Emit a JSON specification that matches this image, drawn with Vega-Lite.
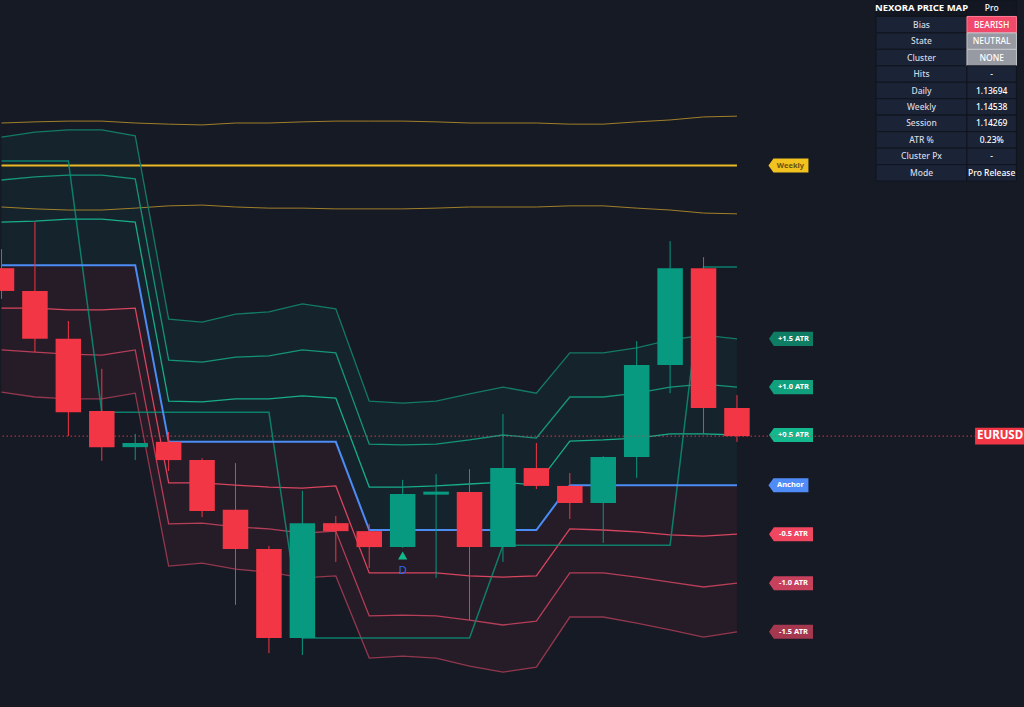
{
"$schema": "https://vega.github.io/schema/vega-lite/v6.json",
"width": 1024, "height": 707, "autosize": {"type": "none"}, "padding": 0,
"background": "#161a25",
"config": {"view": {"stroke": null}},
"datasets": {
"candles": [
{"i":0,"o":1.14268,"h":1.14318,"l":1.14187,"c":1.14208,"a":1.14276,"t":1.14550,"u05":1.14389,"u10":1.14500,"u15":1.14613,"d05":1.14163,"d10":1.14053,"d15":1.13942,"whi":1.14650,"wlo":1.14429,"wk":1.14538},
{"i":1,"o":1.14208,"h":1.14389,"l":1.14047,"c":1.14082,"a":1.14276,"t":1.14550,"u05":1.14392,"u10":1.14508,"u15":1.14626,"d05":1.14163,"d10":1.14047,"d15":1.13929,"whi":1.14653,"wlo":1.14424,"wk":1.14538},
{"i":2,"o":1.14082,"h":1.14129,"l":1.13826,"c":1.13889,"a":1.14276,"t":1.14550,"u05":1.14397,"u10":1.14513,"u15":1.14632,"d05":1.14158,"d10":1.14042,"d15":1.13924,"whi":1.14655,"wlo":1.14421,"wk":1.14538},
{"i":3,"o":1.13892,"h":1.14003,"l":1.13761,"c":1.13797,"a":1.14276,"t":1.13889,"u05":1.14397,"u10":1.14513,"u15":1.14632,"d05":1.14158,"d10":1.14039,"d15":1.13924,"whi":1.14655,"wlo":1.14421,"wk":1.14538},
{"i":4,"o":1.13797,"h":1.13832,"l":1.13763,"c":1.13808,"a":1.14276,"t":1.13889,"u05":1.14389,"u10":1.14503,"u15":1.14616,"d05":1.14163,"d10":1.14053,"d15":1.13939,"whi":1.14650,"wlo":1.14426,"wk":1.14538},
{"i":5,"o":1.13811,"h":1.13837,"l":1.13734,"c":1.13763,"a":1.13811,"t":1.13889,"u05":1.13918,"u10":1.14026,"u15":1.14134,"d05":1.13703,"d10":1.13595,"d15":1.13484,"whi":1.14647,"wlo":1.14432,"wk":1.14538},
{"i":6,"o":1.13763,"h":1.13768,"l":1.13613,"c":1.13629,"a":1.13811,"t":1.13889,"u05":1.13916,"u10":1.14021,"u15":1.14126,"d05":1.13703,"d10":1.13597,"d15":1.13492,"whi":1.14645,"wlo":1.14434,"wk":1.14538},
{"i":7,"o":1.13632,"h":1.13755,"l":1.13382,"c":1.13529,"a":1.13811,"t":1.13889,"u05":1.13924,"u10":1.14034,"u15":1.14147,"d05":1.13697,"d10":1.13587,"d15":1.13476,"whi":1.14650,"wlo":1.14429,"wk":1.14538},
{"i":8,"o":1.13529,"h":1.13537,"l":1.13255,"c":1.13295,"a":1.13811,"t":1.13889,"u05":1.13924,"u10":1.14037,"u15":1.14153,"d05":1.13692,"d10":1.13582,"d15":1.13468,"whi":1.14650,"wlo":1.14426,"wk":1.14538},
{"i":9,"o":1.13295,"h":1.13682,"l":1.13250,"c":1.13597,"a":1.13811,"t":1.13295,"u05":1.13932,"u10":1.14053,"u15":1.14174,"d05":1.13689,"d10":1.13571,"d15":1.13453,"whi":1.14653,"wlo":1.14426,"wk":1.14538},
{"i":10,"o":1.13597,"h":1.13616,"l":1.13495,"c":1.13576,"a":1.13811,"t":1.13295,"u05":1.13926,"u10":1.14045,"u15":1.14161,"d05":1.13695,"d10":1.13576,"d15":1.13458,"whi":1.14655,"wlo":1.14424,"wk":1.14538},
{"i":11,"o":1.13576,"h":1.13595,"l":1.13479,"c":1.13534,"a":1.13579,"t":1.13295,"u05":1.13692,"u10":1.13805,"u15":1.13918,"d05":1.13466,"d10":1.13353,"d15":1.13242,"whi":1.14655,"wlo":1.14424,"wk":1.14538},
{"i":12,"o":1.13534,"h":1.13711,"l":1.13532,"c":1.13674,"a":1.13579,"t":1.13295,"u05":1.13692,"u10":1.13803,"u15":1.13913,"d05":1.13466,"d10":1.13355,"d15":1.13247,"whi":1.14655,"wlo":1.14424,"wk":1.14538},
{"i":13,"o":1.13672,"h":1.13726,"l":1.13453,"c":1.13680,"a":1.13579,"t":1.13295,"u05":1.13695,"u10":1.13805,"u15":1.13918,"d05":1.13466,"d10":1.13353,"d15":1.13242,"whi":1.14653,"wlo":1.14426,"wk":1.14538},
{"i":14,"o":1.13679,"h":1.13739,"l":1.13342,"c":1.13534,"a":1.13579,"t":1.13295,"u05":1.13700,"u10":1.13816,"u15":1.13937,"d05":1.13458,"d10":1.13342,"d15":1.13221,"whi":1.14650,"wlo":1.14429,"wk":1.14538},
{"i":15,"o":1.13534,"h":1.13884,"l":1.13495,"c":1.13742,"a":1.13579,"t":1.13539,"u05":1.13705,"u10":1.13829,"u15":1.13955,"d05":1.13455,"d10":1.13329,"d15":1.13205,"whi":1.14650,"wlo":1.14429,"wk":1.14538},
{"i":16,"o":1.13742,"h":1.13808,"l":1.13687,"c":1.13695,"a":1.13579,"t":1.13539,"u05":1.13697,"u10":1.13821,"u15":1.13939,"d05":1.13458,"d10":1.13339,"d15":1.13218,"whi":1.14650,"wlo":1.14429,"wk":1.14538},
{"i":17,"o":1.13695,"h":1.13729,"l":1.13608,"c":1.13650,"a":1.13697,"t":1.13539,"u05":1.13813,"u10":1.13929,"u15":1.14045,"d05":1.13582,"d10":1.13466,"d15":1.13350,"whi":1.14647,"wlo":1.14432,"wk":1.14538},
{"i":18,"o":1.13650,"h":1.13773,"l":1.13545,"c":1.13771,"a":1.13697,"t":1.13539,"u05":1.13816,"u10":1.13929,"u15":1.14045,"d05":1.13579,"d10":1.13466,"d15":1.13350,"whi":1.14647,"wlo":1.14432,"wk":1.14538},
{"i":19,"o":1.13771,"h":1.14076,"l":1.13716,"c":1.14013,"a":1.13697,"t":1.13539,"u05":1.13821,"u10":1.13939,"u15":1.14058,"d05":1.13574,"d10":1.13455,"d15":1.13334,"whi":1.14653,"wlo":1.14426,"wk":1.14538},
{"i":20,"o":1.14013,"h":1.14339,"l":1.13939,"c":1.14268,"a":1.13697,"t":1.13539,"u05":1.13832,"u10":1.13955,"u15":1.14079,"d05":1.13566,"d10":1.13442,"d15":1.13316,"whi":1.14658,"wlo":1.14421,"wk":1.14538},
{"i":21,"o":1.14268,"h":1.14297,"l":1.13832,"c":1.13900,"a":1.13697,"t":1.14271,"u05":1.13832,"u10":1.13963,"u15":1.14092,"d05":1.13563,"d10":1.13429,"d15":1.13297,"whi":1.14666,"wlo":1.14413,"wk":1.14538},
{"i":22,"o":1.13900,"h":1.13934,"l":1.13811,"c":1.13826,"a":1.13697,"t":1.14271,"u05":1.13829,"u10":1.13955,"u15":1.14082,"d05":1.13568,"d10":1.13439,"d15":1.13311,"whi":1.14668,"wlo":1.14411,"wk":1.14538}
],
"tags": [
{"tag":"Weekly","p":1.14538,"grp":"wa"},
{"tag":"+1.5 ATR","p":1.14082,"grp":"atr"},
{"tag":"+1.0 ATR","p":1.13955,"grp":"atr"},
{"tag":"+0.5 ATR","p":1.13829,"grp":"atr"},
{"tag":"Anchor","p":1.13697,"grp":"wa"},
{"tag":"-0.5 ATR","p":1.13568,"grp":"atr"},
{"tag":"-1.0 ATR","p":1.13439,"grp":"atr"},
{"tag":"-1.5 ATR","p":1.13311,"grp":"atr"}
],
"signals": [{"i":12,"mark":1.13512,"txt":1.13471,"label":"D"}],
"price": [{"sym":"EURUSD","p":1.13826}],
"table": [
{"k":"NEXORA PRICE MAP","v":"Pro","tone":"header"},
{"k":"Bias","v":"BEARISH","tone":"bear"},
{"k":"State","v":"NEUTRAL","tone":"gray"},
{"k":"Cluster","v":"NONE","tone":"gray"},
{"k":"Hits","v":"-","tone":"plain"},
{"k":"Daily","v":"1.13694","tone":"plain"},
{"k":"Weekly","v":"1.14538","tone":"plain"},
{"k":"Session","v":"1.14269","tone":"plain"},
{"k":"ATR %","v":"0.23%","tone":"plain"},
{"k":"Cluster Px","v":"-","tone":"plain"},
{"k":"Mode","v":"Pro Release","tone":"plain"}
]
},
"layer": [
{
"layer": [
{"data":{"name":"candles"},"mark":{"type":"area","color":"#089981","opacity":0.075},
 "encoding":{"x":{"field":"i","type":"quantitative","scale":{"domain":[-0.0449,30.586],"nice":false,"zero":false,"padding":0},"axis":{"values":[0,3,6,9,12,15,18,21,23,25,27,30],"grid":true,"gridColor":"#262a36","labels":false,"ticks":false,"domain":false,"title":null}},
 "y":{"field":"u15","type":"quantitative","scale":{"domain":[1.131132,1.149737],"nice":false,"zero":false,"padding":0},"axis":{"values":[1.132,1.133,1.134,1.135,1.136,1.137,1.138,1.139,1.14,1.141,1.142,1.143,1.144,1.145,1.146,1.147,1.148,1.149],"grid":true,"gridColor":"#262a36","labels":false,"ticks":false,"domain":false,"title":null}},
 "y2":{"field":"a"}}},
{"data":{"name":"candles"},"mark":{"type":"area","color":"#f23645","opacity":0.075},
 "encoding":{"x":{"field":"i","type":"quantitative","axis":null},"y":{"field":"a","type":"quantitative","axis":null},"y2":{"field":"d15"}}},
{"data":{"name":"candles"},"mark":{"type":"line","color":"#b8902a","strokeWidth":1,"opacity":0.85},
 "encoding":{"x":{"field":"i","type":"quantitative","axis":null},"y":{"field":"whi","type":"quantitative","axis":null}}},
{"data":{"name":"candles"},"mark":{"type":"line","color":"#b8902a","strokeWidth":1,"opacity":0.85},
 "encoding":{"x":{"field":"i","type":"quantitative","axis":null},"y":{"field":"wlo","type":"quantitative","axis":null}}},
{"data":{"name":"candles"},"mark":{"type":"line","color":"#e9b824","strokeWidth":2},
 "encoding":{"x":{"field":"i","type":"quantitative","axis":null},"y":{"field":"wk","type":"quantitative","axis":null}}},
{"data":{"name":"candles"},"mark":{"type":"line","color":"#137a65","strokeWidth":1.3},
 "encoding":{"x":{"field":"i","type":"quantitative","axis":null},"y":{"field":"u15","type":"quantitative","axis":null}}},
{"data":{"name":"candles"},"mark":{"type":"line","color":"#15947a","strokeWidth":1.3},
 "encoding":{"x":{"field":"i","type":"quantitative","axis":null},"y":{"field":"u10","type":"quantitative","axis":null}}},
{"data":{"name":"candles"},"mark":{"type":"line","color":"#17ad8b","strokeWidth":1.3},
 "encoding":{"x":{"field":"i","type":"quantitative","axis":null},"y":{"field":"u05","type":"quantitative","axis":null}}},
{"data":{"name":"candles"},"mark":{"type":"line","color":"#d8455f","strokeWidth":1.3},
 "encoding":{"x":{"field":"i","type":"quantitative","axis":null},"y":{"field":"d05","type":"quantitative","axis":null}}},
{"data":{"name":"candles"},"mark":{"type":"line","color":"#b53e58","strokeWidth":1.3},
 "encoding":{"x":{"field":"i","type":"quantitative","axis":null},"y":{"field":"d10","type":"quantitative","axis":null}}},
{"data":{"name":"candles"},"mark":{"type":"line","color":"#92374d","strokeWidth":1.3},
 "encoding":{"x":{"field":"i","type":"quantitative","axis":null},"y":{"field":"d15","type":"quantitative","axis":null}}},
{"data":{"name":"candles"},"mark":{"type":"line","color":"#0b8f77","strokeWidth":1.5,"opacity":0.85},
 "encoding":{"x":{"field":"i","type":"quantitative","axis":null},"y":{"field":"t","type":"quantitative","axis":null}}},
{"data":{"name":"candles"},"mark":{"type":"line","color":"#4b8cf5","strokeWidth":2},
 "encoding":{"x":{"field":"i","type":"quantitative","axis":null},"y":{"field":"a","type":"quantitative","axis":null}}},
{"data":{"name":"candles"},"mark":{"type":"rule","strokeWidth":1},
 "encoding":{"x":{"field":"i","type":"quantitative","axis":null},"y":{"field":"l","type":"quantitative","axis":null},"y2":{"field":"h"},
 "color":{"condition":{"test":"datum.c >= datum.o","value":"#089981"},"value":"#f23645"}}},
{"data":{"name":"candles"},"mark":{"type":"bar","width":25.5},
 "encoding":{"x":{"field":"i","type":"quantitative","axis":null},"y":{"field":"o","type":"quantitative","axis":null},"y2":{"field":"c"},
 "color":{"condition":{"test":"datum.c >= datum.o","value":"#089981"},"value":"#f23645"}}},
{"data":{"name":"signals"},"mark":{"type":"point","shape":"triangle-up","filled":true,"size":85,"color":"#14b88d","opacity":1},
 "encoding":{"x":{"field":"i","type":"quantitative","axis":null},"y":{"field":"mark","type":"quantitative","axis":null}}},
{"data":{"name":"signals"},"mark":{"type":"text","color":"#2f66f0","fontSize":11.5,"font":"Noto Sans","baseline":"middle","align":"center"},
 "encoding":{"x":{"field":"i","type":"quantitative","axis":null},"y":{"field":"txt","type":"quantitative","axis":null},"text":{"field":"label"}}},
{"data":{"name":"tags"},"transform":[{"filter":"datum.grp === 'atr'"}],
 "mark":{"type":"point","shape":"M-1,0L-0.78,-0.32L1,-0.32L1,0.32L-0.78,0.32Z","filled":true,"size":1936,"opacity":1,"strokeWidth":0},
 "encoding":{"x":{"datum":23.617,"type":"quantitative","axis":null},"y":{"field":"p","type":"quantitative","axis":null},
 "color":{"field":"tag","type":"nominal","legend":null,"scale":{"domain":["Weekly","+1.5 ATR","+1.0 ATR","+0.5 ATR","Anchor","-0.5 ATR","-1.0 ATR","-1.5 ATR"],"range":["#f2c21f","#0f7d64","#10a07d","#14b88f","#508cf8","#f0465f","#c8415c","#a5384f"]}}}},
{"data":{"name":"tags"},"transform":[{"filter":"datum.grp === 'wa'"}],
 "mark":{"type":"point","shape":"M-1,0L-0.75,-0.35L1,-0.35L1,0.35L-0.75,0.35Z","filled":true,"size":1600,"opacity":1,"strokeWidth":0},
 "encoding":{"x":{"datum":23.54,"type":"quantitative","axis":null},"y":{"field":"p","type":"quantitative","axis":null},
 "color":{"field":"tag","type":"nominal","legend":null}}},
{"data":{"name":"tags"},"transform":[{"filter":"datum.grp === 'atr'"}],
 "mark":{"type":"text","fontSize":7.5,"fontWeight":"bold","font":"Noto Sans","color":"#ffffff","align":"center","baseline":"middle"},
 "encoding":{"x":{"datum":23.69,"type":"quantitative","axis":null},"y":{"field":"p","type":"quantitative","axis":null},"text":{"field":"tag"}}},
{"data":{"name":"tags"},"transform":[{"filter":"datum.grp === 'wa'"}],
 "mark":{"type":"text","fontSize":7.5,"fontWeight":"bold","font":"Noto Sans","align":"center","baseline":"middle"},
 "encoding":{"x":{"datum":23.60,"type":"quantitative","axis":null},"y":{"field":"p","type":"quantitative","axis":null},"text":{"field":"tag"},
 "color":{"condition":{"test":"datum.tag === 'Weekly'","value":"#6a5510"},"value":"#ffffff"}}},
{"data":{"name":"price"},"mark":{"type":"rule","color":"#f23645","strokeWidth":1,"strokeDash":[1.5,2.5],"opacity":0.9},
 "encoding":{"y":{"field":"p","type":"quantitative","axis":null}}},
{"data":{"name":"price"},"mark":{"type":"point","shape":"M-1,-0.32L1,-0.32L1,0.32L-1,0.32Z","filled":true,"size":2704,"color":"#f23645","opacity":1,"strokeWidth":0},
 "encoding":{"x":{"datum":29.9,"type":"quantitative","axis":null},"y":{"field":"p","type":"quantitative","axis":null}}},
{"data":{"name":"price"},"mark":{"type":"text","fontSize":11.5,"fontWeight":"bold","font":"Noto Sans","color":"#ffffff","align":"center","baseline":"middle"},
 "encoding":{"x":{"datum":29.87,"type":"quantitative","axis":null},"y":{"field":"p","type":"quantitative","axis":null},"text":{"field":"sym"}}}
]
},
{
"data":{"name":"table"},
"encoding":{"y":{"field":"k","type":"nominal","sort":null,"scale":{"range":[0,181],"paddingInner":0,"paddingOuter":0},"axis":null}},
"layer":[
{"mark":{"type":"rect","strokeWidth":1},
 "encoding":{"x":{"datum":26.16,"type":"quantitative","axis":null},"x2":{"datum":28.88},
 "fill":{"condition":{"test":"datum.tone === 'header'","value":"#131722"},"value":"#1b2336"},
 "stroke":{"value":"#11151e"}}},
{"mark":{"type":"rect","strokeWidth":1},
 "encoding":{"x":{"datum":28.88,"type":"quantitative","axis":null},"x2":{"datum":30.36},
 "fill":{"condition":[{"test":"datum.tone === 'header'","value":"#131722"},{"test":"datum.tone === 'bear'","value":"#f2496b"},{"test":"datum.tone === 'gray'","value":"#979aa2"}],"value":"#1b2336"},
 "stroke":{"condition":[{"test":"datum.tone === 'bear'","value":"#ff7d95"},{"test":"datum.tone === 'gray'","value":"#c6c8ce"}],"value":"#11151e"}}},
{"transform":[{"filter":"datum.tone === 'header'"}],
 "mark":{"type":"text","fontSize":9.5,"fontWeight":"bold","font":"Noto Sans","color":"#ffffff","align":"center","baseline":"middle"},
 "encoding":{"x":{"datum":27.52,"type":"quantitative","axis":null},"text":{"field":"k"}}},
{"transform":[{"filter":"datum.tone !== 'header'"}],
 "mark":{"type":"text","fontSize":8.5,"fontWeight":500,"font":"Noto Sans","color":"#d6d9e0","align":"center","baseline":"middle"},
 "encoding":{"x":{"datum":27.52,"type":"quantitative","axis":null},"text":{"field":"k"}}},
{"mark":{"type":"text","fontSize":8.5,"fontWeight":500,"font":"Noto Sans","color":"#ffffff","align":"center","baseline":"middle"},
 "encoding":{"x":{"datum":29.62,"type":"quantitative","axis":null},"text":{"field":"v"}}}
]
}
],
"resolve":{"scale":{"y":"independent"}}
}
